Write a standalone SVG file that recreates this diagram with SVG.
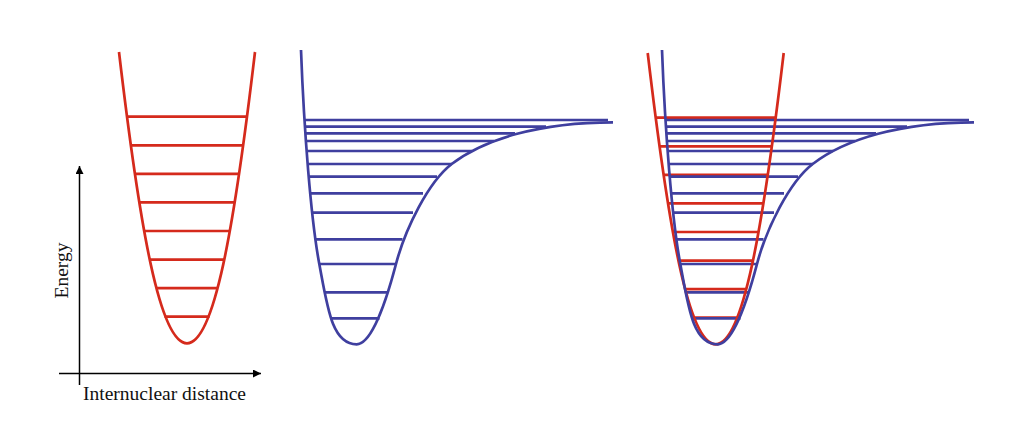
<svg xmlns="http://www.w3.org/2000/svg" xmlns:xlink="http://www.w3.org/1999/xlink" width="1024" height="423" viewBox="0 0 1024 423">
<style>
.red{stroke:#d52a1c;stroke-width:2.7;fill:none}
.blue{stroke:#3f3f9f;stroke-width:2.7;fill:none}
.axis{stroke:#000;stroke-width:1.5;fill:none}
.lbl{font-family:"Liberation Serif","Times New Roman",serif;font-size:19.5px;fill:#111}
</style>
<defs>
<marker id="arr" viewBox="0 0 10 10" refX="10" refY="5" markerWidth="10" markerHeight="8" markerUnits="userSpaceOnUse" orient="auto">
<path d="M0,0 L10,5 L0,10 Z" fill="#000"/>
</marker>
<path id="redCurve" class="red" d="M119,52 C140,230 160,343.3 187,343.3 C214,343.3 234,230 255,52"/>
<g id="redLevels" class="red">
<path d="M126.5,116.7H247.5M130.5,145.3H243.5M134.8,173.9H239.2M139.3,202.4H234.7M144.4,231H229.6M150,259.6H224M156.5,288.1H217.5M164.5,316.7H209.5"/>
</g>
<path id="blueCurve" class="blue" d="M301,50 C304,130 311,220 319.3,264 C327.5,308 332,344.3 356.7,344.3 C372,344.3 386.8,299 396,264 C405.2,229 428.3,182 451.7,164 C484.2,139 540,122.3 613,122.3"/>
<g id="blueLevels" class="blue">
<path d="M305,120H608M305,126.7H546M305.6,133.3H515M306,141H494M306.7,151H472M308.2,164H452M309.2,176.7H437M310.6,193.3H423M312.3,212.7H413M315,239.3H402.5M319.5,264H396M325,292.3H388M331.5,318.3H379.5"/>
</g>
</defs>

<g id="axes">
<path class="axis" d="M79.5,385V166" marker-end="url(#arr)"/>
<path class="axis" d="M59,373.5H261" marker-end="url(#arr)"/>
<text class="lbl" transform="translate(68,270.5) rotate(-90)" text-anchor="middle">Energy</text>
<text class="lbl" x="83" y="400">Internuclear distance</text>
</g>

<g id="harmonic">
<use xlink:href="#redLevels"/>
<use xlink:href="#redCurve"/>
</g>

<g id="morse">
<use xlink:href="#blueLevels"/>
<use xlink:href="#blueCurve"/>
</g>

<g id="combined">
<use xlink:href="#redLevels" transform="translate(528.7,1)"/>
<use xlink:href="#blueLevels" transform="translate(361,0)"/>
<use xlink:href="#redCurve" transform="translate(528.7,1)"/>
<use xlink:href="#blueCurve" transform="translate(361,0)"/>
</g>
</svg>
